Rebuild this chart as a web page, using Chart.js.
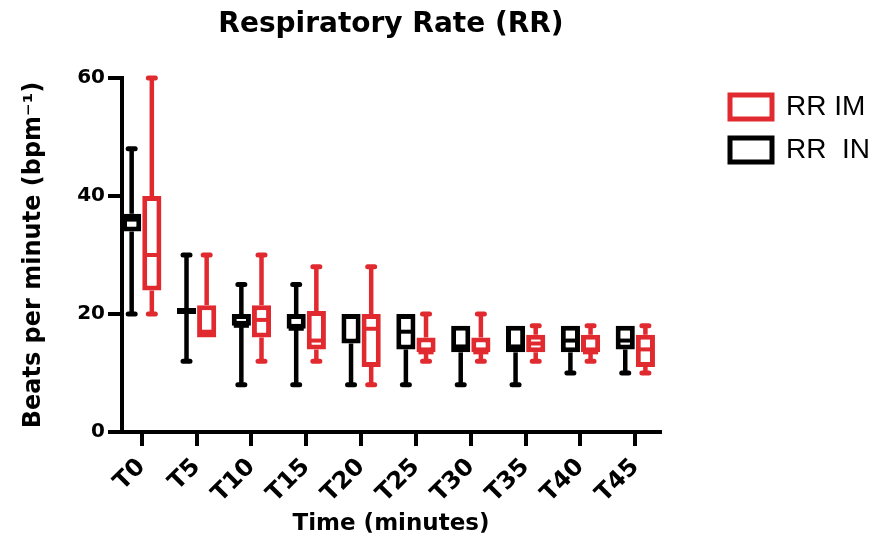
<!DOCTYPE html>
<html>
<head>
<meta charset="utf-8">
<title>Respiratory Rate (RR)</title>
<script src="https://cdn.jsdelivr.net/npm/chart.js@4.4.1/dist/chart.umd.min.js"></script>
<style>
  html, body { margin: 0; padding: 0; background: #fff; }
  #wrap { width: 880px; height: 543px; }
</style>
</head>
<body>
<div id="wrap"><canvas id="rrChart"></canvas></div>
<script>
const timePoints = ['T0', 'T5', 'T10', 'T15', 'T20', 'T25', 'T30', 'T35', 'T40', 'T45'];
const yTicks = [0, 20, 40, 60];

// RR IN (black boxes)
const inMin = [20, 12, 8, 8, 8, 8, 8, 8, 10, 10];
const inQ1  = [34, 20, 18, 17.5, 15, 14, 13.5, 13.5, 13.5, 14];
const inMed = [36, 20.5, 18, 17.5, 19.5, 17, 14.5, 14.5, 15.5, 15.5];
const inQ3  = [37, 21, 20, 20, 20, 20, 18, 18, 18, 18];
const inMax = [48, 30, 25, 25, 20, 20, 18, 18, 18, 18];

// RR IM (red boxes)
const imMin = [20, 16, 12, 12, 8, 12, 12, 12, 12, 10];
const imQ1  = [24, 16, 16, 14, 11, 13.5, 13.5, 13.5, 13.5, 11];
const imMed = [30, 17, 19, 15.5, 17.5, 13.5, 13.5, 15, 13.5, 14];
const imQ3  = [40, 21.5, 21.5, 20.5, 20, 16, 16, 16.5, 16.5, 16.5];
const imMax = [60, 30, 30, 28, 28, 20, 20, 18, 18, 18];

const BLACK = '#000000';
const RED = '#e12a2f';
const boldFont = "'DejaVu Sans', sans-serif";

const toBoxes = (q1, q3) => q1.map((v, i) => ({ x: i, y: [v, q3[i]] }));

// whiskers, caps and median lines, placed through the chart's own scales
const boxWhiskers = {
    id: 'boxWhiskers',
    afterDatasetsDraw(chart) {
        const ctx = chart.ctx;
        const yScale = chart.scales.y;
        chart.data.datasets.forEach((ds, di) => {
            const meta = chart.getDatasetMeta(di);
            const w = ds.whisker;
            ctx.save();
            ctx.strokeStyle = ds.borderColor;
            meta.data.forEach((bar, i) => {
                const x = bar.x;
                const half = bar.width / 2;
                const pMin = yScale.getPixelForValue(w.min[i]);
                const pMax = yScale.getPixelForValue(w.max[i]);
                const pQ1 = yScale.getPixelForValue(ds.data[i].y[0]);
                const pQ3 = yScale.getPixelForValue(ds.data[i].y[1]);
                const pMed = yScale.getPixelForValue(w.med[i]);

                ctx.lineWidth = 4.5;
                ctx.lineCap = 'butt';
                ctx.beginPath();
                if (pMin - pQ1 > 1) { ctx.moveTo(x, pMin); ctx.lineTo(x, pQ1); }
                if (pQ3 - pMax > 1) { ctx.moveTo(x, pQ3); ctx.lineTo(x, pMax); }
                ctx.stroke();

                // caps
                ctx.lineWidth = 5;
                ctx.lineCap = 'round';
                ctx.beginPath();
                if (pMin - pQ1 > 1) { ctx.moveTo(x - 3.5, pMin); ctx.lineTo(x + 3.5, pMin); }
                if (pQ3 - pMax > 1) { ctx.moveTo(x - 3.5, pMax); ctx.lineTo(x + 3.5, pMax); }
                ctx.stroke();

                // median
                ctx.lineWidth = 4;
                ctx.lineCap = 'butt';
                ctx.beginPath();
                ctx.moveTo(x - half + 2, pMed);
                ctx.lineTo(x + half - 2, pMed);
                ctx.stroke();
            });
            ctx.restore();
        });
    }
};

const ctx = document.getElementById('rrChart').getContext('2d');

new Chart(ctx, {
    type: 'bar',
    data: {
        datasets: [
            {
                label: 'RR  IN',
                data: toBoxes(inQ1, inQ3),
                backgroundColor: '#ffffff',
                borderColor: BLACK,
                borderWidth: 5,
                borderSkipped: false,
                whisker: { min: inMin, med: inMed, max: inMax }
            },
            {
                label: 'RR IM',
                data: toBoxes(imQ1, imQ3),
                backgroundColor: '#ffffff',
                borderColor: RED,
                borderWidth: 5,
                borderSkipped: false,
                whisker: { min: imMin, med: imMed, max: imMax }
            }
        ]
    },
    options: {
        responsive: true,
        maintainAspectRatio: false,
        animation: false,
        categoryPercentage: 0.735,
        barPercentage: 0.95,
        layout: { padding: 0 },
        plugins: {
            title: {
                display: true,
                text: 'Respiratory Rate (RR)',
                fullSize: false,
                color: BLACK,
                font: { family: boldFont, weight: 'bold', size: 28 },
                padding: { top: 8, bottom: 36.4 }
            },
            legend: {
                position: 'right',
                align: 'start',
                fullSize: false,
                maxWidth: 165,
                reverse: true,
                labels: {
                    boxWidth: 42,
                    boxHeight: 24,
                    padding: 15,
                    color: BLACK,
                    font: { family: "'Liberation Sans', Arial, sans-serif", size: 28 }
                }
            },
            tooltip: { enabled: false }
        },
        scales: {
            x: {
                type: 'linear',
                min: -0.36,
                max: 9.45,
                offset: false,
                grid: { offset: false, drawOnChartArea: false, tickLength: 14, lineWidth: 4, color: BLACK },
                border: { color: BLACK, width: 4 },
                ticks: {
                    stepSize: 1,
                    includeBounds: false,
                    autoSkip: false,
                    minRotation: 45,
                    maxRotation: 45,
                    padding: 7,
                    color: BLACK,
                    font: { family: boldFont, weight: 'bold', size: 24 },
                    callback: (v) => timePoints[v] ?? ''
                },
                title: {
                    display: true,
                    text: 'Time (minutes)',
                    color: BLACK,
                    font: { family: boldFont, weight: 'bold', size: 23 },
                    padding: { top: 0, bottom: 5 }
                },
                afterFit: (s) => { s.height = 111; }
            },
            y: {
                min: 0,
                max: 60,
                afterBuildTicks: (s) => { s.ticks = yTicks.map(v => ({ value: v })); },
                grid: { drawOnChartArea: false, tickLength: 14, lineWidth: 4, color: BLACK },
                border: { color: BLACK, width: 4 },
                ticks: {
                    padding: 3,
                    color: BLACK,
                    font: { family: boldFont, weight: 'bold', size: 20 }
                },
                title: {
                    display: true,
                    text: 'Beats per minute (bpm\u207B\u00B9)',
                    color: BLACK,
                    font: { family: boldFont, weight: 'bold', size: 24 },
                    padding: { top: 19, bottom: 0 }
                },
                afterFit: (s) => { s.width = 122; }
            },
            gap: {
                type: 'linear',
                position: 'right',
                display: true,
                grid: { display: false },
                ticks: { display: false },
                border: { display: false },
                afterFit: (s) => { s.width = 55; }
            }
        }
    },
    plugins: [boxWhiskers]
});
</script>
</body>
</html>
